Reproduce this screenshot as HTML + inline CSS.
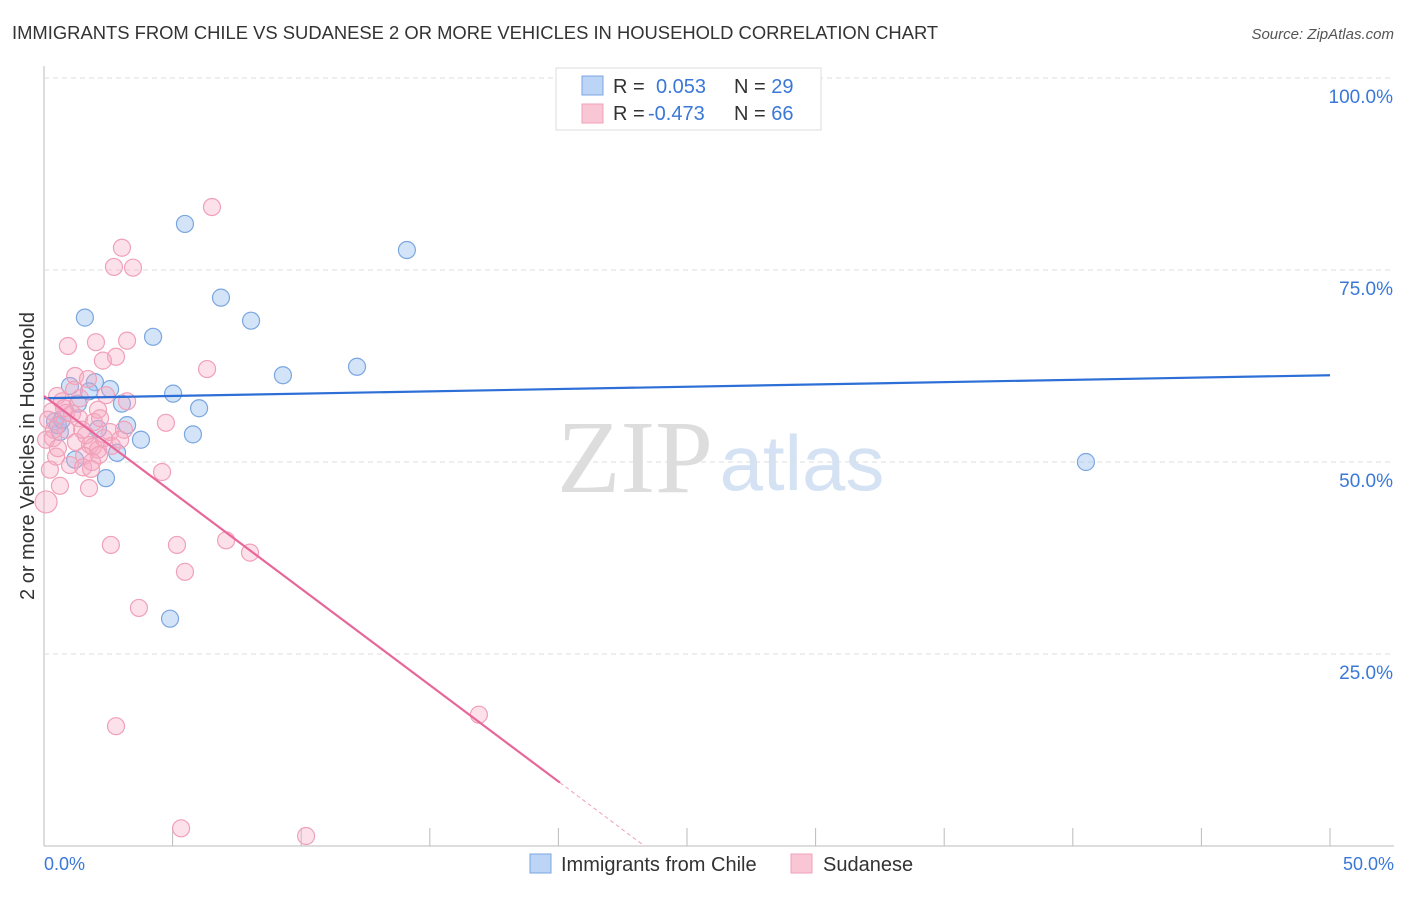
<!DOCTYPE html>
<html><head><meta charset="utf-8"><style>
body{margin:0;background:#fff;font-family:"Liberation Sans",sans-serif}
</style></head><body>
<svg width="1406" height="892" xmlns="http://www.w3.org/2000/svg" id="svg" font-family="Liberation Sans, sans-serif">
<text x="12" y="39" font-size="18.4" fill="#333">IMMIGRANTS FROM CHILE VS SUDANESE 2 OR MORE VEHICLES IN HOUSEHOLD CORRELATION CHART</text>
<text x="1394" y="39" font-size="15" fill="#555" font-style="italic" text-anchor="end">Source: ZipAtlas.com</text>
<g><text x="635" y="492" font-size="104" fill="#ddd" font-family="Liberation Serif, serif" text-anchor="middle">ZIP</text><text x="802" y="490" font-size="78" fill="#d4e2f4" text-anchor="middle">atlas</text></g>
<g id="grid"></g><g id="pts"></g><g id="lines"></g>
<text transform="translate(34,456) rotate(-90)" font-size="20" fill="#333" text-anchor="middle">2 or more Vehicles in Household</text>
<text x="44" y="870" font-size="18" fill="#3a78d8">0.0%</text>
<text x="1394" y="870" font-size="18" fill="#3a78d8" text-anchor="end">50.0%</text>
<g>
<rect x="556" y="68" width="265" height="62" fill="#fff" stroke="#ddd"/>
<rect x="582" y="76" width="21" height="19" fill="#bcd4f6" stroke="#7aa6e0"/>
<rect x="582" y="104" width="21" height="19" fill="#f9c6d5" stroke="#f0a0b8"/>
<text x="613" y="93" font-size="20" fill="#333">R = <tspan fill="#3a78d8" x="656">0.053</tspan><tspan x="734" fill="#333">N = </tspan><tspan fill="#3a78d8">29</tspan></text>
<text x="613" y="120" font-size="20" fill="#333">R = <tspan fill="#3a78d8" x="648">-0.473</tspan><tspan x="734" fill="#333">N = </tspan><tspan fill="#3a78d8">66</tspan></text>
</g>
<g>
<rect x="530" y="854" width="21" height="19" fill="#bcd4f6" stroke="#7aa6e0"/>
<text x="561" y="871" font-size="20" fill="#333">Immigrants from Chile</text>
<rect x="791" y="854" width="21" height="19" fill="#f9c6d5" stroke="#f0a0b8"/>
<text x="823" y="871" font-size="20" fill="#333">Sudanese</text>
</g>
</svg>
<script>
const yTicks=[25,50,75,100];
const yTickLabels=["25.0%","50.0%","75.0%","100.0%"];
const xTicks=[0,5,10,15,20,25,30,35,40,45,50];
const chileX=[5.48,14.11,6.88,1.59,8.05,4.24,12.17,9.29,1.01,1.98,2.57,5.02,1.75,3.03,6.03,1.32,0.43,3.23,2.10,0.62,5.79,3.77,2.84,1.21,2.41,40.51,4.90,0.54,0.70];
const chileY=[81.0,77.6,71.4,68.8,68.4,66.3,62.4,61.3,59.9,60.4,59.5,58.9,59.2,57.6,57.0,57.6,55.3,54.8,54.3,53.9,53.6,52.9,51.2,50.3,47.9,50.0,29.6,54.8,55.5];
const sudX=[6.53,3.03,2.72,3.46,0.93,2.02,3.23,2.80,2.29,6.34,1.21,1.71,0.51,0.70,1.40,3.23,2.41,2.10,0.86,1.09,0.31,1.36,4.74,2.57,0.35,1.24,1.79,1.91,2.10,2.64,1.56,0.47,2.14,1.01,1.52,1.83,4.59,0.62,1.75,0.08,2.60,5.17,7.08,8.01,5.48,3.69,16.91,2.80,5.33,10.19,0.08,0.78,1.94,1.63,3.11,0.16,0.54,2.33,1.48,2.96,0.86,1.17,2.18,0.39,1.87,0.23];
const sudY=[83.2,77.9,75.4,75.3,65.1,65.6,65.8,63.7,63.2,62.1,61.2,60.8,58.6,57.9,58.3,57.9,58.7,56.8,56.4,56.3,56.6,55.7,55.1,53.9,53.1,52.6,52.2,52.0,51.6,52.1,50.8,50.7,50.9,49.6,49.3,49.1,48.7,46.9,46.6,44.8,39.2,39.2,39.8,38.2,35.7,31.0,17.1,15.6,2.3,1.3,52.9,57.0,55.2,53.5,54.2,55.5,51.8,53.1,54.2,52.9,54.2,59.4,55.7,54.2,50.0,49.0];
const chileTrend=[58.3,61.3];
const sudTrend=[58.6,-2.51];
const NS="http://www.w3.org/2000/svg";
const X=v=>44+v/50*1286, Y=v=>846-v/100*768;
function mk(p,t,a){const e=document.createElementNS(NS,t);for(const k in a)e.setAttribute(k,a[k]);p.appendChild(e);return e;}
const g=document.getElementById('grid'),P=document.getElementById('pts'),L=document.getElementById('lines');
const ax=mk(g,'line',{x1:44,y1:66,x2:44,y2:846,stroke:'#bbb'});


const bx=mk(g,'line',{x1:44,y1:846,x2:1394,y2:846,stroke:'#bbb'});


yTicks.forEach((v,i)=>{
 const l=mk(g,'line',{x1:44,y1:Y(v),x2:1394,y2:Y(v),stroke:'#ddd','stroke-dasharray':'5,4'});
 
 
 const t=mk(g,'text',{x:1393,y:Y(v)+25,'font-size':19,fill:'#3a78d8','text-anchor':'end'});t.textContent=yTickLabels[i];
 
 
});
xTicks.forEach(v=>{
 const l=mk(g,'line',{x1:X(v),y1:828,x2:X(v),y2:846,stroke:'#bbb'});
 
 
});
chileX.forEach((x,i)=>{
 const c=mk(P,'circle',{cx:X(x),cy:Y(chileY[i]),r:8.5,fill:'rgba(160,195,240,0.45)',stroke:'#7aa6e0','stroke-width':1.2});
 
 
});
sudX.forEach((x,i)=>{
 const c=mk(P,'circle',{cx:X(x),cy:Y(sudY[i]),r:i==39?11:8.5,fill:'rgba(245,170,195,0.35)',stroke:'#f0a0b8','stroke-width':1.2});
 
 
});
const bl=mk(L,'line',{x1:X(0),y1:Y(chileTrend[0]),x2:X(50),y2:Y(chileTrend[1]),stroke:'#2d6fd6','stroke-width':2.2});


const sf=x=>sudTrend[0]+sudTrend[1]*x, xe=20.06, x0=-sudTrend[0]/sudTrend[1];
const pl=mk(L,'line',{x1:X(0),y1:Y(sf(0)),x2:X(xe),y2:Y(sf(xe)),stroke:'#e8679a','stroke-width':2.2});


const pd=mk(L,'line',{x1:X(xe),y1:Y(sf(xe)),x2:X(x0),y2:Y(0),stroke:'#f0a0b8','stroke-width':1,'stroke-dasharray':'4,3'});


</script>
</body></html>
